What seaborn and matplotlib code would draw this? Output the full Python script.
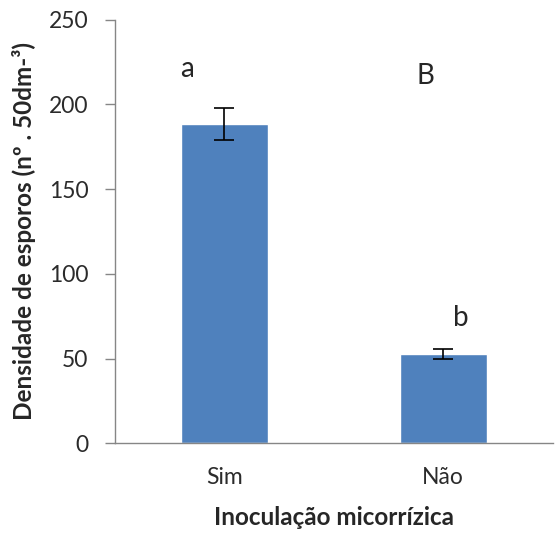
import matplotlib
matplotlib.use("Agg")
import matplotlib.pyplot as plt
import seaborn as sns
import pandas as pd

# data
categorias = ["Sim", "Não"]
densidade = [188.4, 52.8]
erro = [9.6, 2.8]
letras_min = ["a", "b"]
letras_min_y = [221, 74]
letra_maiuscula = "B"
letra_maiuscula_y = 217

sns.set_style("white")
plt.rcParams['font.family'] = ['Lato', 'DejaVu Sans']

df = pd.DataFrame({'inoc': categorias, 'dens': densidade})

fig = plt.figure(figsize=(5.55, 5.34), dpi=100)
ax = fig.add_axes([0.207, 0.170, 0.789, 0.793])

sns.barplot(data=df, x='inoc', y='dens', color='#4f81bd', width=0.4,
            saturation=1, ax=ax, errorbar=None)
ax.errorbar(range(len(categorias)), densidade, yerr=erro, fmt='none',
            ecolor='black', elinewidth=1.2, capsize=7, capthick=1.2)

# significance letters
ax.text(0 - 0.17, letras_min_y[0], letras_min[0], ha='center', va='center', fontsize=20)
ax.text(1 + 0.08, letras_min_y[1], letras_min[1], ha='center', va='center', fontsize=20)
ax.text(1 - 0.08, letra_maiuscula_y, letra_maiuscula, ha='center', va='center', fontsize=20)

ax.set_ylim(0, 250)
ax.set_xlim(-0.5, 1.5)
ax.set_yticks(range(0, 251, 50))
ax.set_xticks([-0.5, 0.5, 1.5], minor=True)
ax.tick_params(axis='x', which='major', length=0, pad=17, labelsize=16.5, labelcolor='#2b2b2b')
ax.tick_params(axis='x', which='minor', length=7, width=1, color='#868686', direction='out')
ax.tick_params(axis='y', length=7, width=1, color='#868686', direction='out',
               labelsize=16.5, labelcolor='#2b2b2b', pad=12, left=True)

for s in ['top', 'right']:
    ax.spines[s].set_visible(False)
for s in ['left', 'bottom']:
    ax.spines[s].set_color('#868686')
    ax.spines[s].set_linewidth(1)

ax.set_xlabel('Inoculação micorrízica', fontsize=17.5, fontweight='bold', labelpad=13)
ax.set_ylabel('Densidade de esporos (nº . 50dm-³)', fontsize=17.5, fontweight='bold', labelpad=9)

fig.savefig('out.png', dpi=100)
